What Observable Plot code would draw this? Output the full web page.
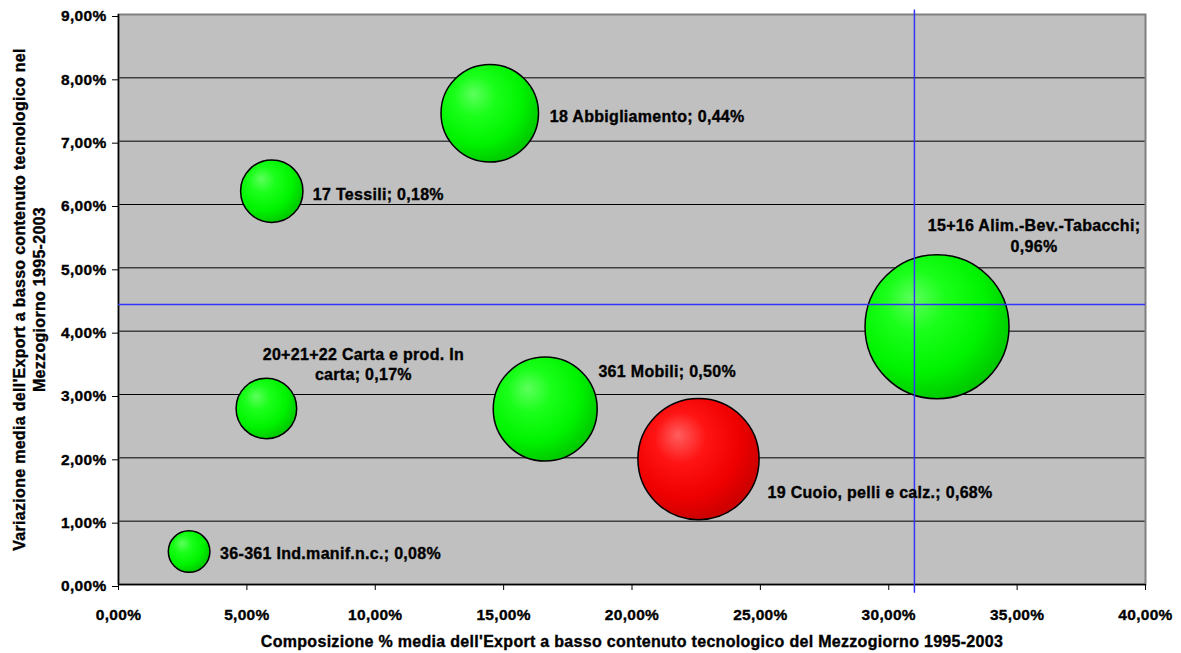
<!DOCTYPE html>
<html>
<head>
<meta charset="utf-8">
<script src="https://cdn.jsdelivr.net/npm/d3@7"></script>
<script src="https://cdn.jsdelivr.net/npm/@observablehq/plot@0.6"></script>
<style>
  html, body { margin: 0; padding: 0; background: #ffffff; }
  #chart { width: 1181px; height: 653px; }
  /* slightly heavier text strokes for the bold labels */
  #chart svg text { stroke: #000; stroke-width: 0.35px; }
</style>
</head>
<body>
<div id="chart"></div>
<script>
// Settori del basso contenuto tecnologico (Mezzogiorno 1995-2003)
const sectors = [
  "36-361 Ind.manif.n.c.",
  "17 Tessili",
  "18 Abbigliamento",
  "15+16 Alim.-Bev.-Tabacchi",
  "20+21+22 Carta e prod. In carta",
  "361 Mobili",
  "19 Cuoio, pelli e calz."
];
// Composizione % media dell'export (asse x)
const composition = [2.75, 5.97, 14.46, 31.88, 5.76, 16.62, 22.59];
// Variazione media dell'export (asse y)
const growth = [0.52, 6.21, 7.44, 4.07, 2.78, 2.77, 1.98];
// Dimensione della bolla (valore riportato nell'etichetta)
const bubbleSize = [0.08, 0.18, 0.44, 0.96, 0.17, 0.50, 0.68];
// Settore evidenziato in rosso
const highlighted = ["19 Cuoio, pelli e calz."];

// Linee di riferimento (medie)
const refX = 31.0;
const refXSpan = [-0.14, 9.07];
const refY = 4.42;
const refYSpan = [0, 40];

// Tick labels
const xTicks = [0, 5, 10, 15, 20, 25, 30, 35, 40];
const yTicks = [0, 1, 2, 3, 4, 5, 6, 7, 8, 9];

const xTitle = "Composizione % media dell'Export a basso contenuto tecnologico del Mezzogiorno 1995-2003";
const yTitle = "Variazione media dell'Export a basso contenuto tecnologico nel\nMezzogiorno 1995-2003";

// Label placement around each bubble (pixel offsets from the bubble centre)
const labelLayout = {
  "36-361 Ind.manif.n.c.":           {dx: 31,  dy: 1,   anchor: "start"},
  "17 Tessili":                      {dx: 41,  dy: 2,   anchor: "start"},
  "18 Abbigliamento":                {dx: 60,  dy: 2,   anchor: "start"},
  "15+16 Alim.-Bev.-Tabacchi":       {dx: 97,  dy: -92, anchor: "middle", breakAfter: "Tabacchi;"},
  "20+21+22 Carta e prod. In carta": {dx: 97,  dy: -45, anchor: "middle", breakAfter: "In"},
  "361 Mobili":                      {dx: 122, dy: -39, anchor: "middle"},
  "19 Cuoio, pelli e calz.":         {dx: 69,  dy: 32,  anchor: "start"}
};

const pct = d => d.toFixed(2).replace(".", ",") + "%";

const rows = sectors.map((s, i) => {
  let label = `${s}; ${pct(bubbleSize[i])}`;
  const lay = labelLayout[s];
  if (lay.breakAfter) label = label.replace(lay.breakAfter + " ", lay.breakAfter + "\n");
  return {
    sector: s,
    x: composition[i],
    y: growth[i],
    size: bubbleSize[i],
    fill: highlighted.includes(s) ? "url(#ballRed)" : "url(#ballGreen)",
    label
  };
});

// Shaded sphere gradients for the bubbles
function gradients() {
  const defs = d3.create("svg:defs");
  const mk = (id, stops) => {
    const g = defs.append("radialGradient")
      .attr("id", id)
      .attr("cx", 0.4).attr("cy", 0.38).attr("r", 0.7)
      .attr("fx", 0.33).attr("fy", 0.3);
    stops.forEach(([o, c]) => g.append("stop").attr("offset", o).attr("stop-color", c));
  };
  mk("ballGreen", [[0, "#5cff5c"], [0.3, "#1aff1a"], [0.65, "#00f400"], [1, "#00bc00"]]);
  mk("ballRed",   [[0, "#ff5e5e"], [0.3, "#ff1414"], [0.65, "#f00000"], [1, "#c00000"]]);
  return defs.node();
}

const labelMarks = rows.map(r => {
  const lay = labelLayout[r.sector];
  return Plot.text([r], {
    x: "x", y: "y", text: "label",
    dx: lay.dx, dy: lay.dy,
    textAnchor: lay.anchor, lineAnchor: "middle",
    lineHeight: 1.3, fontSize: 16, fill: "#000"
  });
});

const chart = Plot.plot({
  width: 1181,
  height: 653,
  marginLeft: 118,
  marginRight: 36,
  marginTop: 14,
  marginBottom: 69,
  style: {
    fontFamily: "'Liberation Sans', Arial, sans-serif",
    fontSize: "15px",
    fontWeight: "bold",
    letterSpacing: "0.3px",
    color: "#000",
    background: "#ffffff",
    overflow: "visible"
  },
  x: {domain: [0, 40]},
  y: {domain: [0, 9]},
  r: {type: "sqrt", domain: [0, 0.96], range: [0, 72]},
  marks: [
    gradients,
    Plot.frame({fill: "#c0c0c0", stroke: null}),
    Plot.gridY(yTicks.filter(t => t > 0 && t < 9), {stroke: "#000", strokeOpacity: 1, strokeWidth: 1}),
    Plot.frame({stroke: "#808080", strokeWidth: 2, fill: "none"}),
    Plot.ruleX([0], {stroke: "#000", strokeWidth: 1.5}),
    Plot.ruleY([0], {stroke: "#000", strokeWidth: 1.5}),
    Plot.axisX({
      ticks: xTicks, tickFormat: pct, tickSize: 6, tickPadding: 18,
      label: null, stroke: "#000", fontSize: 15.5, fill: "#000"
    }),
    Plot.axisY({
      ticks: yTicks, tickFormat: pct, tickSize: 6, tickPadding: 6,
      label: null, stroke: "#000", fontSize: 15.5, dy: 2, fill: "#000"
    }),
    Plot.dot(rows, {
      x: "x", y: "y", r: "size",
      fill: "fill", stroke: "#000", strokeWidth: 1.5
    }),
    Plot.ruleY([refY], {x1: refYSpan[0], x2: refYSpan[1], stroke: "#3434ff", strokeWidth: 1.5}),
    Plot.ruleX([refX], {y1: refXSpan[0], y2: refXSpan[1], stroke: "#3434ff", strokeWidth: 1.5}),
    ...labelMarks,
    Plot.text([xTitle], {frameAnchor: "bottom", dy: 57, fontSize: 16, fill: "#000", lineAnchor: "middle"}),
    Plot.text([yTitle], {
      frameAnchor: "left", dx: -90, rotate: -90, fontSize: 16, fill: "#000",
      lineAnchor: "middle", textAnchor: "middle", lineHeight: 1.25
    })
  ]
});

document.getElementById("chart").appendChild(chart);
</script>
</body>
</html>
